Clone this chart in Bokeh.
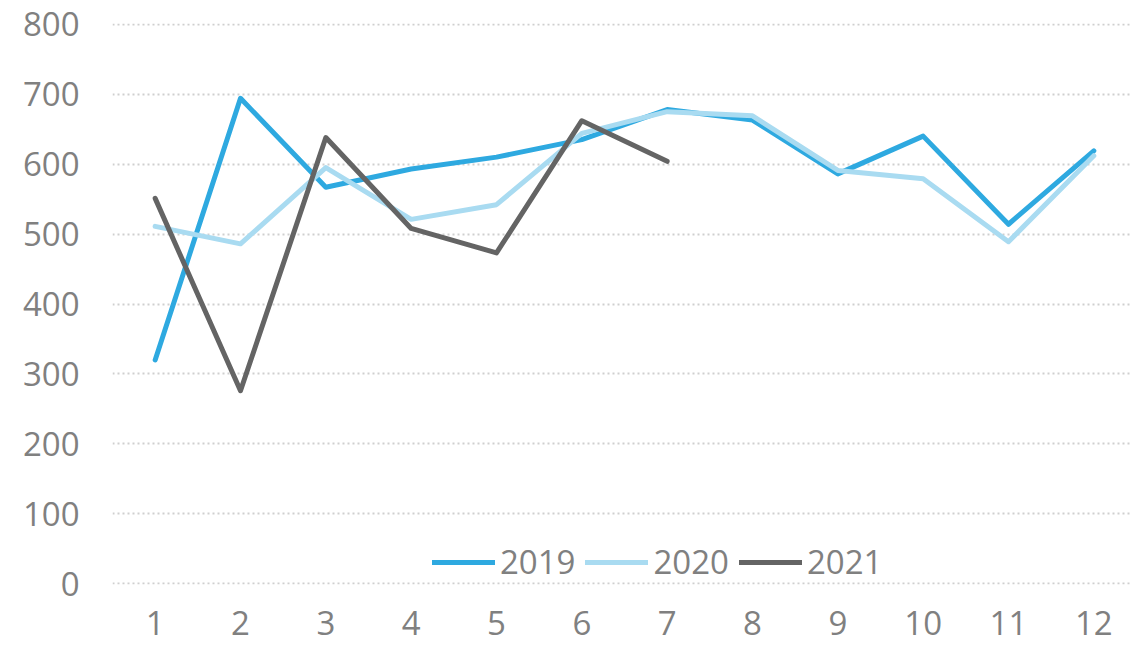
from bokeh.plotting import figure
from bokeh.models import Range1d, FixedTicker, Legend, LegendItem
from bokeh.embed import file_html
from bokeh.resources import INLINE

months = [1, 2, 3, 4, 5, 6, 7, 8, 9, 10, 11, 12]
s2019 = [320, 694, 567, 593, 610, 635, 678, 663, 586, 640, 514, 619]
s2020 = [511, 486, 595, 521, 542, 644, 675, 669, 591, 579, 489, 612]
months_2021 = [1, 2, 3, 4, 5, 6, 7]
s2021 = [551, 276, 638, 508, 473, 662, 604]
y_ticks = [0, 100, 200, 300, 400, 500, 600, 700, 800]
series_names = ["2019", "2020", "2021"]
colors = ["#2EA9E0", "#A9DBF1", "#646464"]

FONT = "Open Sans"
TXT = "#808080"

p = figure(width=1138, height=647, output_backend="svg", toolbar_location=None,
           x_range=Range1d(0.5, 12.43), y_range=Range1d(-1, 801),
           min_border_left=112, min_border_right=8, min_border_top=23, min_border_bottom=63)
p.outline_line_color = None
p.background_fill_color = "white"
p.border_fill_color = "white"

r1 = p.line(months, s2019, line_color=colors[0], line_width=5, line_join="round", line_cap="round")
r2 = p.line(months, s2020, line_color=colors[1], line_width=5, line_join="round", line_cap="round")
r3 = p.line(months_2021, s2021, line_color=colors[2], line_width=5, line_join="round", line_cap="round")

p.xgrid.grid_line_color = None
p.ygrid.grid_line_color = "#cfcfcf"
p.ygrid.grid_line_width = 2
p.ygrid.grid_line_dash = "2 3"
p.ygrid.ticker = FixedTicker(ticks=y_ticks)

p.yaxis.ticker = FixedTicker(ticks=y_ticks)
p.xaxis.ticker = FixedTicker(ticks=months)
for ax in (p.xaxis[0], p.yaxis[0]):
    ax.axis_line_color = None
    ax.major_tick_line_color = None
    ax.minor_tick_line_color = None
    ax.major_tick_out = 0
    ax.major_tick_in = 0
    ax.major_label_text_font = FONT
    ax.major_label_text_font_size = "33px"
    ax.major_label_text_color = TXT
p.yaxis.major_label_standoff = 33
p.xaxis.major_label_standoff = 26

legend = Legend(items=[LegendItem(label=series_names[0], renderers=[r1]),
                       LegendItem(label=series_names[1], renderers=[r2]),
                       LegendItem(label=series_names[2], renderers=[r3])],
                orientation="horizontal", location=(320, 0))
legend.glyph_width = 63
legend.glyph_height = 20
legend.label_standoff = 5
legend.spacing = 10
legend.padding = 0
legend.margin = 0
legend.border_line_color = None
legend.background_fill_alpha = 0
legend.label_text_font = FONT
legend.label_text_font_size = "33px"
legend.label_text_color = TXT
p.add_layout(legend)

html = file_html(p, INLINE)
html = html.replace("<head>", "<head><style>html,body{overflow:hidden;}</style>", 1)
open("out.html", "w").write(html)
